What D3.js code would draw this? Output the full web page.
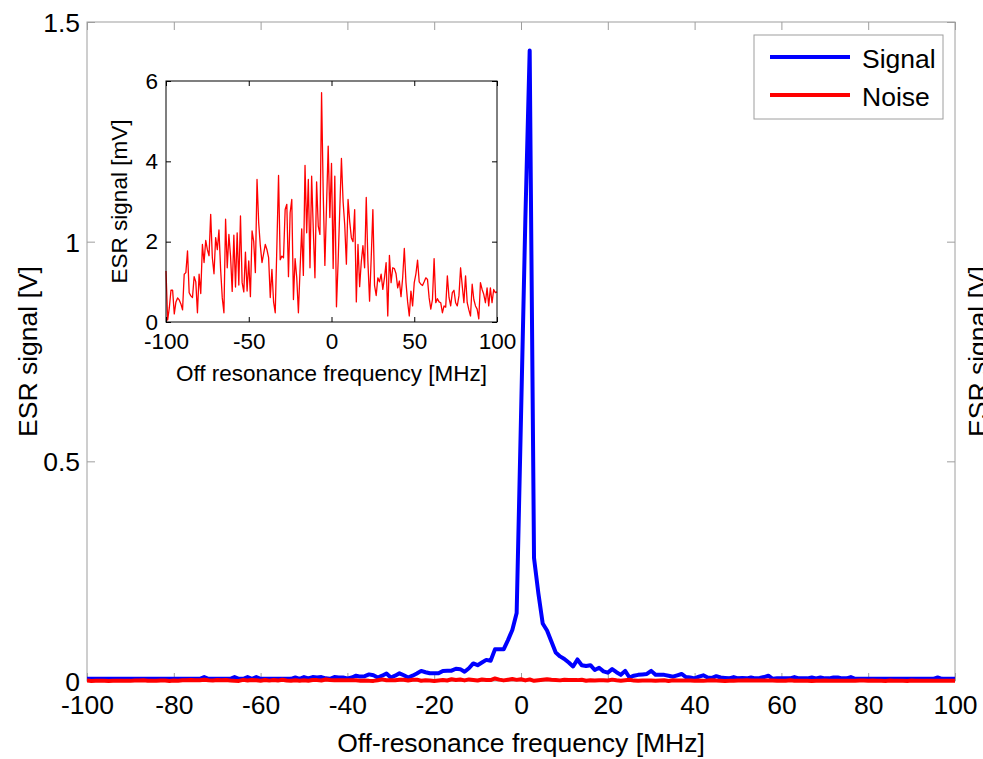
<!DOCTYPE html>
<html><head><meta charset="utf-8">
<script src="https://cdn.jsdelivr.net/npm/d3@7"></script>
<style>
body{margin:0;background:#fff}
text{font-family:"Liberation Sans",Arial,Helvetica,sans-serif;fill:#000}
</style>
</head><body>
<svg id="chart" width="983" height="759"></svg>
<script>
// ---------- DATA ----------
const freqMHz = d3.range(-100, 101, 1);   // off-resonance frequency grid [MHz]

const signalV = [
  0.005,0.005,0.005,0.005,0.005,0.005,0.005,0.005,0.005,0.005,
  0.005,0.005,0.005,0.005,0.005,0.005,0.005,0.005,0.005,0.005,
  0.005,0.005,0.005,0.005,0.005,0.005,0.005,0.009,0.005,0.005,
  0.005,0.005,0.005,0.005,0.009,0.005,0.005,0.009,0.005,0.009,
  0.005,0.005,0.005,0.005,0.005,0.005,0.005,0.005,0.008,0.005,
  0.009,0.006,0.009,0.008,0.009,0.006,0.005,0.009,0.008,0.008,
  0.006,0.008,0.012,0.010,0.011,0.015,0.013,0.008,0.012,0.017,
  0.008,0.012,0.0175,0.013,0.008,0.012,0.017,0.023,0.020,0.0175,
  0.0175,0.0175,0.023,0.0235,0.0235,0.028,0.027,0.021,0.029,0.040,
  0.036,0.042,0.048,0.046,0.072,0.072,0.072,0.093,0.116,0.155,
  0.60,1.05,1.435,0.28,0.20,0.131,0.115,0.090,0.065,0.056,
  0.050,0.042,0.033,0.049,0.036,0.034,0.036,0.025,0.030,0.022,
  0.019,0.027,0.020,0.014,0.023,0.008,0.012,0.014,0.015,0.016,
  0.023,0.014,0.014,0.014,0.012,0.010,0.013,0.016,0.009,0.008,
  0.006,0.010,0.013,0.008,0.007,0.011,0.008,0.007,0.006,0.009,
  0.006,0.007,0.006,0.008,0.006,0.007,0.009,0.012,0.005,0.006,
  0.006,0.006,0.006,0.009,0.006,0.006,0.006,0.008,0.006,0.008,
  0.006,0.006,0.008,0.008,0.006,0.006,0.009,0.005,0.005,0.005,
  0.005,0.005,0.005,0.005,0.005,0.005,0.005,0.005,0.005,0.005,
  0.005,0.005,0.005,0.005,0.005,0.005,0.008,0.005,0.005,0.005,
  0.005
];

const noiseMV = [
  1.27,0.05,0.35,0.79,0.79,0.2,0.5,0.6,0.55,0.45,
  0.3,1.19,1.23,1.77,0.73,0.65,0.61,1.13,1.0,0.23,
  1.19,0.71,1.93,1.48,2.03,1.8,1.65,2.68,1.6,1.2,
  2.1,1.8,2.29,1.31,0.6,0.23,2.56,1.35,2.18,1.64,
  0.76,2.16,0.87,2.22,0.92,2.64,0.98,0.75,1.74,0.77,
  1.52,0.63,2.27,2.0,1.23,3.55,2.47,1.9,1.48,1.7,
  1.93,1.8,1.6,0.61,1.31,0.5,0.23,1.9,3.65,1.55,
  1.64,1.6,2.8,2.93,1.13,2.72,3.05,0.56,1.58,1.1,
  0.23,1.3,2.32,1.16,3.9,2.22,3.55,1.35,3.63,2.3,
  1.1,3.49,2.39,2.18,5.71,3.2,1.41,2.9,4.38,2.6,
  3.95,1.33,3.63,0.38,1.5,2.8,4.07,3.0,2.41,1.44,
  3.05,2.5,2.1,2.0,2.8,0.5,1.93,0.88,1.5,1.9,
  1.35,3.1,1.5,0.52,1.6,2.8,0.91,0.66,1.1,1.0,
  1.19,0.81,1.1,1.48,0.15,1.66,0.98,1.35,1.33,1.2,
  0.85,1.02,0.63,1.1,1.83,0.98,0.5,0.15,0.77,0.4,
  0.98,1.2,1.54,1.0,0.94,0.91,1.0,1.1,1.06,0.6,
  0.32,0.56,1.58,0.48,0.58,0.5,0.48,0.23,0.4,0.37,
  1.15,0.61,0.4,0.73,0.79,0.48,0.4,0.65,1.35,0.9,
  0.48,1.15,0.48,0.3,0.15,0.94,0.56,0.4,0.32,0.08,
  0.98,0.81,0.69,0.48,0.85,0.4,0.85,0.48,0.81,0.73,0.75
];

const mainXTicks = [-100,-80,-60,-40,-20,0,20,40,60,80,100];
const mainYTicks = [0,0.5,1,1.5];
const mainYTickLabels = ["0","0.5","1","1.5"];
const insetXTicks = [-100,-50,0,50,100];
const insetYTicks = [0,2,4,6];
const legendLabels = ["Signal","Noise"];
const legendColors = ["#0000ff","#ff0000"];

// ---------- DRAW ----------
const svg = d3.select("#chart");
const frameColor = "#9e9e9e";
const mainFont = 26.5, insetFont = 22.5;

const x = d3.scaleLinear().domain([-100,100]).range([87,955]);
const y = d3.scaleLinear().domain([0,1.5]).range([681,22]);

svg.append("rect").attr("x",0).attr("y",0).attr("width",983).attr("height",759).attr("fill","#fff");

function styleAxis(g, color, fs){
  g.select(".domain").remove();
  g.selectAll(".tick line").attr("stroke",color);
  g.selectAll("text").attr("font-size",fs).attr("font-family",null).style("fill","#000");
  g.attr("font-family",null).attr("font-size",null);
}
const signedInt = d => (d < 0 ? "-" + Math.abs(d) : String(d));

// main axes
const gxB = svg.append("g").attr("transform",`translate(0,${y(0)})`)
  .call(d3.axisBottom(x).tickValues(mainXTicks).tickFormat(signedInt).tickSizeInner(-8).tickSizeOuter(0).tickPadding(14));
styleAxis(gxB, frameColor, mainFont);
const gxT = svg.append("g").attr("transform",`translate(0,${y(1.5)})`)
  .call(d3.axisTop(x).tickValues(mainXTicks).tickFormat("").tickSizeInner(-8).tickSizeOuter(0));
styleAxis(gxT, frameColor, mainFont);
const gyL = svg.append("g").attr("transform",`translate(${x(-100)},0)`)
  .call(d3.axisLeft(y).tickValues(mainYTicks).tickFormat((d,i)=>mainYTickLabels[i]).tickSizeInner(-8).tickSizeOuter(0).tickPadding(7));
styleAxis(gyL, frameColor, mainFont);
gyL.selectAll("text").attr("dy","0.36em");
const gyR = svg.append("g").attr("transform",`translate(${x(100)},0)`)
  .call(d3.axisRight(y).tickValues(mainYTicks).tickFormat("").tickSizeInner(-8).tickSizeOuter(0));
styleAxis(gyR, frameColor, mainFont);

svg.append("rect").attr("x",x(-100)).attr("y",y(1.5)).attr("width",x(100)-x(-100)).attr("height",y(0)-y(1.5))
  .attr("fill","none").attr("stroke",frameColor).attr("stroke-width",1);

// main lines
svg.append("defs").append("clipPath").attr("id","mainclip").append("rect")
  .attr("x",x(-100)).attr("y",y(1.5)-4).attr("width",x(100)-x(-100)).attr("height",y(0)-y(1.5)+8);

const lineMain = d3.line().x((d,i)=>x(freqMHz[i])).y(d=>y(d));
svg.append("path").datum(signalV).attr("d",lineMain).attr("fill","none")
  .attr("stroke","#0000ff").attr("stroke-width",4).attr("stroke-linejoin","round").attr("clip-path","url(#mainclip)");
svg.append("path").datum(noiseMV.map(v=>v/1000)).attr("d",lineMain).attr("fill","none")
  .attr("stroke","#ff0000").attr("stroke-width",4).attr("stroke-linejoin","round").attr("clip-path","url(#mainclip)");

// main labels
svg.append("text").attr("x",(x(-100)+x(100))/2).attr("y",752).attr("text-anchor","middle")
  .attr("font-size",mainFont).text("Off-resonance frequency [MHz]");
svg.append("text").attr("transform",`translate(37,${(y(0)+y(1.5))/2})rotate(-90)`).attr("text-anchor","middle")
  .attr("font-size",mainFont).text("ESR signal [V]");
svg.append("text").attr("transform",`translate(987,${(y(0)+y(1.5))/2})rotate(-90)`).attr("text-anchor","middle")
  .attr("font-size",mainFont).text("ESR signal [V]");

// legend
const lg = svg.append("g");
lg.append("rect").attr("x",754).attr("y",35).attr("width",189).attr("height",84)
  .attr("fill","#fff").attr("stroke",frameColor).attr("stroke-width",1);
legendLabels.forEach((lab,i)=>{
  const cy = 57 + i*38;
  lg.append("line").attr("x1",770).attr("x2",850).attr("y1",cy).attr("y2",cy)
    .attr("stroke",legendColors[i]).attr("stroke-width",4);
  lg.append("text").attr("x",862).attr("y",cy+11).attr("font-size",mainFont).text(lab);
});

// ---------- INSET ----------
const xi = d3.scaleLinear().domain([-100,100]).range([166,497]);
const yi = d3.scaleLinear().domain([0,6]).range([322,81]);
svg.append("rect").attr("x",xi(-100)).attr("y",yi(6)).attr("width",xi(100)-xi(-100)).attr("height",yi(0)-yi(6))
  .attr("fill","#fff");

const lineInset = d3.line().x((d,i)=>xi(freqMHz[i])).y(d=>yi(d));
svg.append("path").datum(noiseMV).attr("d",lineInset).attr("fill","none")
  .attr("stroke","#ff0000").attr("stroke-width",1.3).attr("stroke-linejoin","round");

const ixB = svg.append("g").attr("transform",`translate(0,${yi(0)})`)
  .call(d3.axisBottom(xi).tickValues(insetXTicks).tickFormat(signedInt).tickSizeInner(-5).tickSizeOuter(0).tickPadding(11));
styleAxis(ixB, "#000", insetFont);
const ixT = svg.append("g").attr("transform",`translate(0,${yi(6)})`)
  .call(d3.axisTop(xi).tickValues(insetXTicks).tickFormat("").tickSizeInner(-5).tickSizeOuter(0));
styleAxis(ixT, "#000", insetFont);
const iyL = svg.append("g").attr("transform",`translate(${xi(-100)},0)`)
  .call(d3.axisLeft(yi).tickValues(insetYTicks).tickFormat(d3.format("d")).tickSizeInner(-5).tickSizeOuter(0).tickPadding(8));
styleAxis(iyL, "#000", insetFont);
const iyR = svg.append("g").attr("transform",`translate(${xi(100)},0)`)
  .call(d3.axisRight(yi).tickValues(insetYTicks).tickFormat("").tickSizeInner(-5).tickSizeOuter(0));
styleAxis(iyR, "#000", insetFont);

svg.append("rect").attr("x",xi(-100)).attr("y",yi(6)).attr("width",xi(100)-xi(-100)).attr("height",yi(0)-yi(6))
  .attr("fill","none").attr("stroke","#000").attr("stroke-width",1);

svg.append("text").attr("x",(xi(-100)+xi(100))/2).attr("y",381).attr("text-anchor","middle")
  .attr("font-size",insetFont).text("Off resonance frequency [MHz]");
svg.append("text").attr("transform",`translate(127,${(yi(0)+yi(6))/2})rotate(-90)`).attr("text-anchor","middle")
  .attr("font-size",insetFont).text("ESR signal [mV]");
</script>
</body></html>
